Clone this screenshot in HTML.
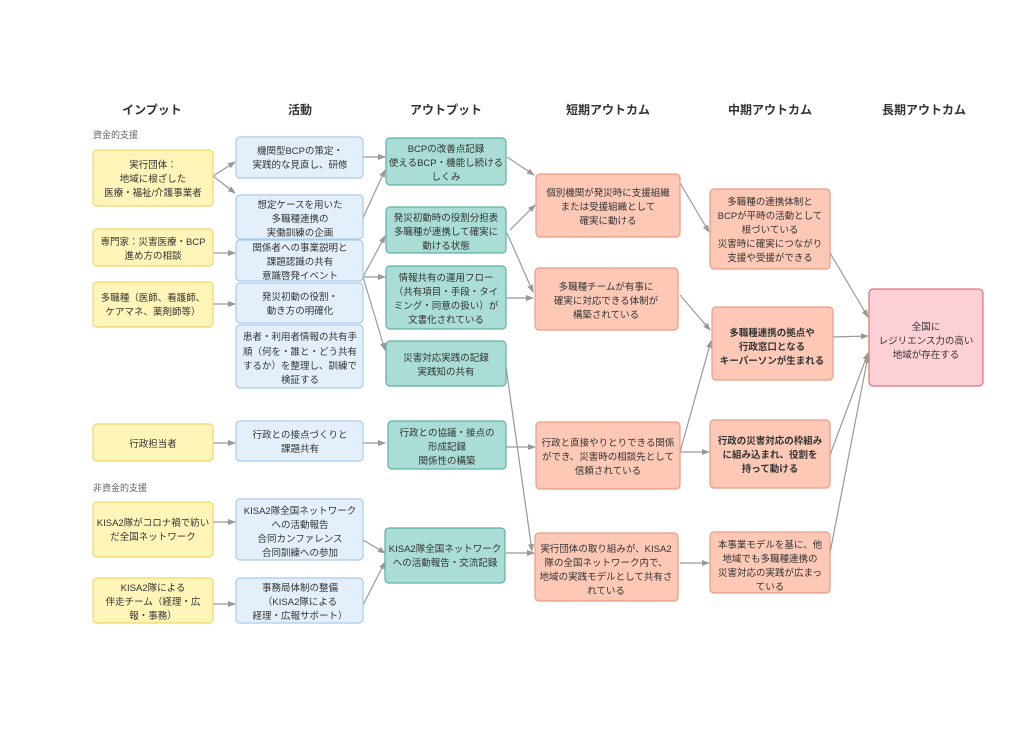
<!DOCTYPE html>
<html><head><meta charset="utf-8"><style>
body{margin:0;background:#fff}
text{font-family:"Liberation Sans","Noto Sans CJK JP",sans-serif;font-size:9.5px;fill:#333;text-anchor:middle}
.h{font-size:12px;font-weight:bold;fill:#333}
.s{font-size:9px;fill:#666;text-anchor:start}
.b{font-weight:bold}
.y{fill:#fff5b8;stroke:#f0d868}
.bl{fill:#e3f0fc;stroke:#a9cbe9}
.t{fill:#a9ddd5;stroke:#5fb1a7}
.o{fill:#fdc9b6;stroke:#eb9c84}
.p{fill:#fdd0d7;stroke:#e2707c}
rect{stroke-width:1.2}
line{stroke:#999;stroke-width:1.2}
</style></head><body>
<svg width="1024" height="724" xmlns="http://www.w3.org/2000/svg">
<defs><marker id="a" markerWidth="8" markerHeight="8" refX="7" refY="4" orient="auto" markerUnits="userSpaceOnUse"><path d="M0,1 L8,4 L0,7 z" fill="#999"/></marker></defs>
<g class="h">
<text x="152" y="114" class="h">インプット</text><text x="300" y="114" class="h">活動</text><text x="446" y="114" class="h">アウトプット</text><text x="608" y="114" class="h">短期アウトカム</text><text x="770" y="114" class="h">中期アウトカム</text><text x="924" y="114" class="h">長期アウトカム</text>
</g>
<text x="93" y="138" class="s">資金的支援</text>
<text x="93" y="491" class="s">非資金的支援</text>

<g marker-end="url(#a)">
<line x1="213" y1="176" x2="235" y2="162"/><line x1="213" y1="176" x2="235" y2="193"/>
<line x1="213" y1="253" x2="235" y2="253"/><line x1="213" y1="304" x2="235" y2="304"/>
<line x1="213" y1="443" x2="235" y2="443"/><line x1="213" y1="522" x2="235" y2="522"/><line x1="213" y1="604" x2="235" y2="604"/>
<line x1="363" y1="157" x2="385" y2="157"/><line x1="363" y1="218" x2="385" y2="170"/>
<line x1="363" y1="277" x2="385" y2="236"/><line x1="363" y1="277" x2="385" y2="277"/><line x1="363" y1="277" x2="385" y2="350"/>
<line x1="363" y1="443" x2="385" y2="443"/><line x1="363" y1="540" x2="385" y2="553"/><line x1="363" y1="605" x2="385" y2="562"/>
<line x1="507" y1="157" x2="534" y2="175"/><line x1="510" y1="230" x2="535" y2="205"/><line x1="507" y1="233" x2="533" y2="292"/>
<line x1="506" y1="298" x2="533" y2="298"/><line x1="506" y1="367" x2="532" y2="551"/>
<line x1="506" y1="447" x2="535" y2="447"/><line x1="506" y1="553" x2="534" y2="553"/>
<line x1="680" y1="183" x2="709" y2="232"/><line x1="680" y1="295" x2="710" y2="330"/>
<line x1="680" y1="452" x2="709" y2="452"/><line x1="680" y1="452" x2="711" y2="341"/>
<line x1="680" y1="563" x2="709" y2="563"/>
<line x1="830" y1="253" x2="868" y2="317"/><line x1="833" y1="337" x2="868" y2="336"/>
<line x1="830" y1="455" x2="868" y2="353"/><line x1="830" y1="553" x2="868" y2="356"/>
</g>

<rect class="y" x="93" y="150" width="120" height="56" rx="4"/><text x="153" y="168">実行団体：</text><text x="153" y="182">地域に根ざした</text><text x="153" y="196">医療・福祉/介護事業者</text>
<rect class="y" x="93" y="229" width="120" height="37" rx="4"/><text x="153" y="245">専門家：災害医療・BCP</text><text x="153" y="259">進め方の相談</text>
<rect class="y" x="93" y="282" width="120" height="45" rx="4"/><text x="153" y="301">多職種（医師、看護師、</text><text x="153" y="315">ケアマネ、薬剤師等）</text>
<rect class="y" x="93" y="424" width="120" height="37" rx="4"/><text x="153" y="447">行政担当者</text>
<rect class="y" x="93" y="502" width="120" height="55" rx="4"/><text x="153" y="526">KISA2隊がコロナ禍で紡い</text><text x="153" y="540">だ全国ネットワーク</text>
<rect class="y" x="93" y="578" width="120" height="45" rx="4"/><text x="153" y="591">KISA2隊による</text><text x="153" y="605">伴走チーム（経理・広</text><text x="153" y="619">報・事務）</text>

<rect class="bl" x="236" y="137" width="127" height="41" rx="4"/><text x="300" y="154">機関型BCPの策定・</text><text x="300" y="168">実践的な見直し、研修</text>
<rect class="bl" x="236" y="195" width="127" height="44" rx="4"/><text x="300" y="208">想定ケースを用いた</text><text x="300" y="222">多職種連携の</text><text x="300" y="236">実働訓練の企画</text>
<rect class="bl" x="236" y="240" width="127" height="41" rx="4"/><text x="300" y="251">関係者への事業説明と</text><text x="300" y="265">課題認識の共有</text><text x="300" y="279">意識啓発イベント</text>
<rect class="bl" x="236" y="283" width="127" height="40" rx="4"/><text x="300" y="300">発災初動の役割・</text><text x="300" y="314">動き方の明確化</text>
<rect class="bl" x="236" y="325" width="127" height="63" rx="4"/><text x="300" y="340">患者・利用者情報の共有手</text><text x="300" y="355">順（何を・誰と・どう共有</text><text x="300" y="369">するか）を整理し、訓練で</text><text x="300" y="383">検証する</text>
<rect class="bl" x="236" y="421" width="127" height="40" rx="4"/><text x="300" y="438">行政との接点づくりと</text><text x="300" y="452">課題共有</text>
<rect class="bl" x="236" y="499" width="127" height="61" rx="4"/><text x="300" y="514">KISA2隊全国ネットワーク</text><text x="300" y="528">への活動報告</text><text x="300" y="542">合同カンファレンス</text><text x="300" y="556">合同訓練への参加</text>
<rect class="bl" x="236" y="578" width="127" height="45" rx="4"/><text x="300" y="591">事務局体制の整備</text><text x="300" y="605">（KISA2隊による</text><text x="300" y="619">経理・広報サポート）</text>

<rect class="t" x="386" y="138" width="120" height="47" rx="4"/><text x="446" y="152">BCPの改善点記録</text><text x="446" y="166">使えるBCP・機能し続ける</text><text x="446" y="180">しくみ</text>
<rect class="t" x="386" y="207" width="120" height="46" rx="4"/><text x="446" y="221">発災初動時の役割分担表</text><text x="446" y="235">多職種が連携して確実に</text><text x="446" y="249">動ける状態</text>
<rect class="t" x="386" y="266" width="120" height="63" rx="4"/><text x="446" y="281">情報共有の運用フロー</text><text x="446" y="295">（共有項目・手段・タイ</text><text x="446" y="309">ミング・同意の扱い）が</text><text x="446" y="323">文書化されている</text>
<rect class="t" x="386" y="341" width="120" height="45" rx="4"/><text x="446" y="361">災害対応実践の記録</text><text x="446" y="375">実践知の共有</text>
<rect class="t" x="388" y="421" width="118" height="48" rx="4"/><text x="447" y="436">行政との協議・接点の</text><text x="447" y="450">形成記録</text><text x="447" y="464">関係性の構築</text>
<rect class="t" x="385" y="528" width="120" height="55" rx="4"/><text x="445" y="552">KISA2隊全国ネットワーク</text><text x="445" y="566">への活動報告・交流記録</text>

<rect class="o" x="536" y="174" width="144" height="63" rx="4"/><text x="608" y="196">個別機関が発災時に支援組織</text><text x="608" y="210">または受援組織として</text><text x="608" y="224">確実に動ける</text>
<rect class="o" x="535" y="268" width="143" height="62" rx="4"/><text x="606" y="290">多職種チームが有事に</text><text x="606" y="304">確実に対応できる体制が</text><text x="606" y="318">構築されている</text>
<rect class="o" x="536" y="422" width="144" height="67" rx="4"/><text x="608" y="446">行政と直接やりとりできる関係</text><text x="608" y="460">ができ、災害時の相談先として</text><text x="608" y="474">信頼されている</text>
<rect class="o" x="535" y="533" width="143" height="68" rx="4"/><text x="606" y="552">実行団体の取り組みが、KISA2</text><text x="606" y="566">隊の全国ネットワーク内で、</text><text x="606" y="580">地域の実践モデルとして共有さ</text><text x="606" y="594">れている</text>

<rect class="o" x="710" y="189" width="120" height="80" rx="4"/><text x="770" y="205">多職種の連携体制と</text><text x="770" y="219">BCPが平時の活動として</text><text x="770" y="233">根づいている</text><text x="770" y="247">災害時に確実につながり</text><text x="770" y="261">支援や受援ができる</text>
<rect class="o" x="712" y="307" width="121" height="73" rx="4"/><text x="772" y="336" class="b">多職種連携の拠点や</text><text x="772" y="350" class="b">行政窓口となる</text><text x="772" y="364" class="b">キーパーソンが生まれる</text>
<rect class="o" x="710" y="420" width="120" height="68" rx="4"/><text x="770" y="444" class="b">行政の災害対応の枠組み</text><text x="770" y="458" class="b">に組み込まれ、役割を</text><text x="770" y="472" class="b">持って動ける</text>
<rect class="o" x="710" y="532" width="120" height="61" rx="4"/><text x="770" y="548">本事業モデルを基に、他</text><text x="770" y="562">地域でも多職種連携の</text><text x="770" y="576">災害対応の実践が広まっ</text><text x="770" y="590">ている</text>

<rect class="p" x="869" y="289" width="114" height="97" rx="4"/><text x="926" y="330">全国に</text><text x="926" y="344">レジリエンス力の高い</text><text x="926" y="358">地域が存在する</text>
</svg>
</body></html>
